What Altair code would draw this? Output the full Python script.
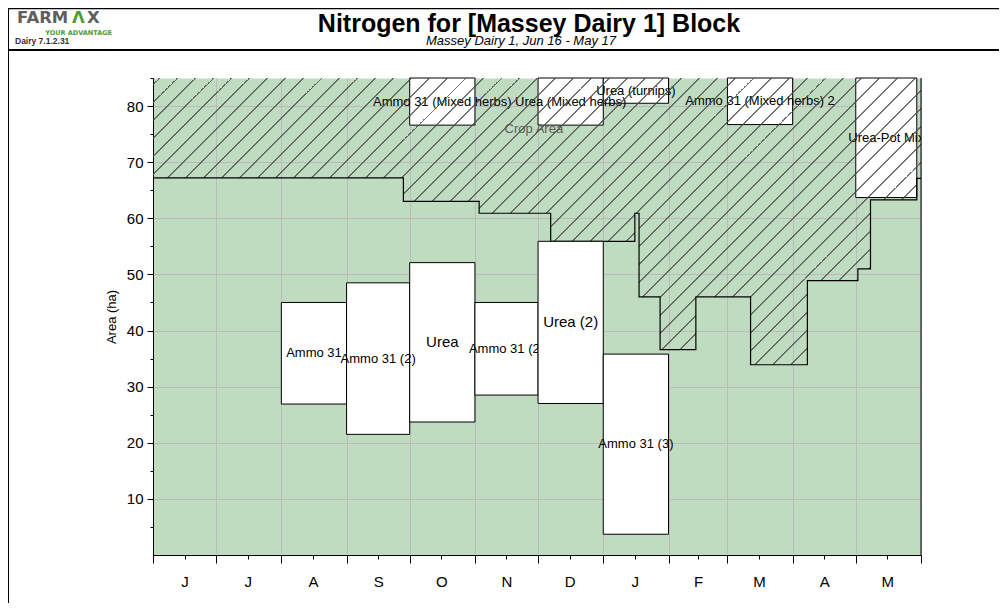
import altair as alt
import pandas as pd

# ------------------------------------------------------------------ data
MONTH_LABELS = ["J", "J", "A", "S", "O", "N", "D", "J", "F", "M", "A", "M"]
MONTH_STARTS = ["2016-06-01", "2016-07-01", "2016-08-01", "2016-09-01", "2016-10-01",
                "2016-11-01", "2016-12-01", "2017-01-01", "2017-02-01", "2017-03-01",
                "2017-04-01", "2017-05-01", "2017-06-01"]
MONTH_MIDS = ["2016-06-16", "2016-07-16", "2016-08-16", "2016-09-16", "2016-10-16",
              "2016-11-16", "2016-12-16", "2017-01-16", "2017-02-15", "2017-03-16",
              "2017-04-16", "2017-05-16"]
Y_TICKS = [5, 10, 15, 20, 25, 30, 35, 40, 45, 50, 55, 60, 65, 70, 75, 80, 85]

# crop-area boundary (step line)
STEP_DATES = ["2016-06-01", "2016-09-28", "2016-11-03", "2016-12-07", "2017-01-16",
              "2017-01-18", "2017-01-28", "2017-02-14", "2017-03-12", "2017-04-08",
              "2017-05-02", "2017-05-08", "2017-05-30", "2017-06-01"]
STEP_VALUES = [67.2, 63.0, 60.9, 55.9, 60.9, 46.0, 36.6, 46.0, 33.9, 48.9,
               51.0, 63.3, 67.1, 67.1]

# nitrogen applications on pasture
APP_LABELS = ["Ammo 31", "Ammo 31 (2)", "Urea", "Ammo 31 (2)", "Urea (2)", "Ammo 31 (3)"]
APP_START = ["2016-08-01", "2016-09-01", "2016-10-01", "2016-11-01", "2016-12-01", "2017-01-01"]
APP_END = ["2016-09-01", "2016-10-01", "2016-11-01", "2016-12-01", "2017-01-01", "2017-02-01"]
APP_LOW = [26.9, 21.5, 23.7, 28.5, 27.0, 3.7]
APP_HIGH = [45.0, 48.5, 52.1, 45.0, 55.9, 35.8]

# nitrogen applications on crops
CROP_LABELS = ["Ammo 31 (Mixed herbs)", "Urea (Mixed herbs)", "Urea (turnips)",
               "Ammo 31 (Mixed herbs) 2", "Urea-Pot Mix"]
CROP_START = ["2016-10-01", "2016-12-01", "2017-01-01", "2017-03-01", "2017-05-01"]
CROP_END = ["2016-11-01", "2017-01-01", "2017-02-01", "2017-04-01", "2017-05-30"]
CROP_LOW = [76.6, 76.6, 80.5, 76.7, 63.7]
CROP_HIGH = [85.0, 85.0, 85.0, 85.0, 85.0]

CROP_AREA_LABEL = ["Crop Area"]
CROP_AREA_DATE = ["2016-11-29"]
CROP_AREA_VALUE = [76.0]

TITLE = ["Nitrogen for [Massey Dairy 1] Block"]
SUBTITLE = ["Massey Dairy 1, Jun 16 - May 17"]
LOGO_PARTS = ["FARM", "Λ", "X"]
LOGO_TAGLINE = ["YOUR ADVANTAGE"]
VERSION = ["Dairy 7.1.2.31"]

# ------------------------------------------------------------------ layout / style
W, H = 768, 477
YMAX = 85
FONT = "Liberation Sans"
GREEN = "#c0dcc0"


def loc(d):
    return d + "T00:00"


def dt(d):
    y, m, dd = (int(v) for v in d.split("-"))
    return alt.DateTime(year=y, month=m, date=dd)


def mid(a, b):
    ta, tb = pd.Timestamp(a), pd.Timestamp(b)
    return (ta + (tb - ta) / 2).strftime("%Y-%m-%dT%H:%M")


step_df = pd.DataFrame({"date": [loc(d) for d in STEP_DATES], "value": STEP_VALUES})

app_df = pd.DataFrame({
    "order": list(range(len(APP_LABELS))),
    "label": APP_LABELS,
    "start": [loc(d) for d in APP_START],
    "end": [loc(d) for d in APP_END],
    "low": APP_LOW, "high": APP_HIGH,
    "mid": [mid(a, b) for a, b in zip(APP_START, APP_END)],
    "ymid": [(a + b) / 2 for a, b in zip(APP_LOW, APP_HIGH)],
})
crop_df = pd.DataFrame({
    "label": CROP_LABELS,
    "start": [loc(d) for d in CROP_START],
    "end": [loc(d) for d in CROP_END],
    "low": CROP_LOW, "high": CROP_HIGH,
    "mid": [mid(a, b) for a, b in zip(CROP_START, CROP_END)],
    "ymid": [(a + b) / 2 for a, b in zip(CROP_LOW, CROP_HIGH)],
})
croplab_df = pd.DataFrame({"label": CROP_AREA_LABEL,
                           "mid": [loc(d) for d in CROP_AREA_DATE],
                           "ymid": CROP_AREA_VALUE})

# ------------------------------------------------------------------ scales & axes
x_scale = alt.Scale(domain=[dt(MONTH_STARTS[0]), dt(MONTH_STARTS[-1])])
y_scale = alt.Scale(domain=[0, YMAX], nice=False, zero=True)

label_array = "[" + ",".join("'%s'" % s for s in MONTH_LABELS) + "]"
x_axis = alt.Axis(
    title=None,
    values=[dt(d) for d in MONTH_STARTS] + [dt(d) for d in MONTH_MIDS],
    labelExpr="date(datum.value) == 1 ? '' : %s[(month(datum.value) + 7) %% 12]" % label_array,
    tickSize={"condition": {"test": "date(datum.value) == 1", "value": 8}, "value": 4},
    gridOpacity={"condition": {"test": "date(datum.value) == 1", "value": 1}, "value": 0},
    grid=True,
    labelPadding=15,
    labelAngle=0,
)
y_axis = alt.Axis(
    title="Area (ha)",
    values=Y_TICKS,
    labelExpr="datum.value % 10 == 0 ? datum.label : ''",
    tickSize={"condition": {"test": "datum.value % 10 == 0", "value": 6}, "value": 3},
    gridOpacity={"condition": {"test": "datum.value % 10 == 0 && datum.value < 85", "value": 1}, "value": 0},
    grid=True,
    labelPadding=4,
    titlePadding=8,
)


def X(f):
    return alt.X(f + ":T", scale=x_scale, axis=x_axis)


def Y(f):
    return alt.Y(f + ":Q", scale=y_scale, axis=y_axis)


# ------------------------------------------------------------------ hatch gradient
HB = H * (YMAX - min(STEP_VALUES)) / YMAX
S = W + HB
k = S / (W * W + HB * HB)
PERIOD, LW = 18.0, 1.6
CLEAR, INK = "rgba(75,75,75,0)", "rgba(75,75,75,0.78)"
stops = []
d = 6.0
while d + LW < S:
    a, b = d / S, (d + LW) / S
    stops += [{"offset": a, "color": CLEAR}, {"offset": a, "color": INK},
              {"offset": b, "color": INK}, {"offset": b, "color": CLEAR}]
    d += PERIOD
hatch = {"gradient": "linear", "x1": 0, "y1": 0, "x2": k * W, "y2": k * HB, "stops": stops}

# ------------------------------------------------------------------ layers
crop_boxes = alt.Chart(crop_df).mark_rect(fill="white", stroke="black", strokeWidth=1).encode(
    x=X("start"), x2=alt.X2("end"), y=Y("low"), y2=alt.Y2("high"))
crop_text = alt.Chart(crop_df).mark_text(font=FONT, fontSize=13, color="black", clip=True).encode(
    x=X("mid"), y=Y("ymid"), text="label:N")
crop_area_text = alt.Chart(croplab_df).mark_text(font=FONT, fontSize=13, color="#5e5e5e").encode(
    x=X("mid"), y=Y("ymid"), text="label:N")

hatch_area = alt.Chart(step_df).mark_area(interpolate="step-after", fill=hatch, opacity=1).encode(
    x=X("date"), y=Y("value"), y2=alt.datum(YMAX))
step_line = alt.Chart(step_df).mark_line(interpolate="step-after", color="black", strokeWidth=1.2).encode(
    x=X("date"), y=Y("value"))


def app_box(pred):
    return alt.Chart(app_df).transform_filter(pred).mark_rect(
        fill="white", stroke="black", strokeWidth=1).encode(
        x=X("start"), x2=alt.X2("end"), y=Y("low"), y2=alt.Y2("high"))


def app_label(pred):
    return alt.Chart(app_df).transform_filter(pred).mark_text(font=FONT, color="black").encode(
        x=X("mid"), y=Y("ymid"), text="label:N",
        size=alt.condition("indexof(datum.label, 'Urea') == 0", alt.value(15), alt.value(13)))


# first three boxes, then their labels; afterwards each box covers the previous label
app_layers = [app_box(alt.datum.order <= 2), app_label(alt.datum.order <= 2)]
for i in range(3, len(APP_LABELS)):
    app_layers += [app_box(alt.datum.order == i), app_label(alt.datum.order == i)]

one = pd.DataFrame({"a": [0]})
right_border = alt.Chart(one).mark_rule(color="black", strokeWidth=1).encode(
    x=alt.value(W), y=alt.value(0), y2=alt.value(H))

# header: title block, logo, frame lines
title_text = alt.Chart(pd.DataFrame({"t": TITLE})).mark_text(
    font=FONT, fontWeight="bold", fontSize=25, color="black", align="center", baseline="alphabetic"
).encode(x=alt.value(376), y=alt.value(-46), text="t:N")
subtitle_text = alt.Chart(pd.DataFrame({"t": SUBTITLE})).mark_text(
    font=FONT, fontStyle="italic", fontSize=13, color="black", align="center", baseline="alphabetic"
).encode(x=alt.value(368), y=alt.value(-33.5), text="t:N")

frame_top = alt.Chart(one).mark_rule(color="black", strokeWidth=2.5).encode(
    x=alt.value(-146), x2=alt.value(850), y=alt.value(-70))
frame_head = alt.Chart(one).mark_rule(color="black", strokeWidth=2).encode(
    x=alt.value(-146), x2=alt.value(850), y=alt.value(-28))
frame_left = alt.Chart(one).mark_rule(color="black", strokeWidth=2).encode(
    x=alt.value(-145), y=alt.value(-71), y2=alt.value(530))

logo_style = dict(font="DejaVu Sans", fontWeight="bold", fontSize=16.5, align="left", baseline="alphabetic")
logo_farm = alt.Chart(pd.DataFrame({"t": [LOGO_PARTS[0]]})).mark_text(color="#5f5f5f", **logo_style).encode(
    x=alt.value(-136), y=alt.value(-55), text="t:N")
logo_a = alt.Chart(pd.DataFrame({"t": [LOGO_PARTS[1]]})).mark_text(color="#4f9b35", **logo_style).encode(
    x=alt.value(-81), y=alt.value(-55), text="t:N")
logo_x = alt.Chart(pd.DataFrame({"t": [LOGO_PARTS[2]]})).mark_text(color="#5f5f5f", **logo_style).encode(
    x=alt.value(-66), y=alt.value(-55), text="t:N")
logo_tag = alt.Chart(pd.DataFrame({"t": LOGO_TAGLINE})).mark_text(
    font="DejaVu Sans", fontWeight="bold", fontSize=6.5, color="#4f9b35", align="right", baseline="alphabetic"
).encode(x=alt.value(-41), y=alt.value(-43), text="t:N")
version = alt.Chart(pd.DataFrame({"t": VERSION})).mark_text(
    font=FONT, fontWeight="bold", fontSize=8.5, color="#333333", align="left", baseline="alphabetic"
).encode(x=alt.value(-138), y=alt.value(-34), text="t:N")

chart = alt.layer(
    crop_boxes, crop_text, crop_area_text, hatch_area, step_line,
    *app_layers, right_border,
    title_text, subtitle_text,
    frame_top, frame_head, frame_left, logo_farm, logo_a, logo_x, logo_tag, version,
).properties(
    width=W, height=H,
    padding={"left": 145, "top": 70, "right": 78, "bottom": 48},
    autosize=alt.AutoSizeParams(type="none"),
).configure_view(
    fill=GREEN, stroke="transparent"
).configure_axis(
    labelFont=FONT, titleFont=FONT, labelFontSize=15, titleFontSize=13, titleFontWeight="normal",
    labelColor="black", titleColor="black", domainColor="black", tickColor="black",
    gridColor="#bbbbbb", gridWidth=1, domainWidth=1,
)

chart.save("out.html", embed_options={"renderer": "svg", "actions": False})
